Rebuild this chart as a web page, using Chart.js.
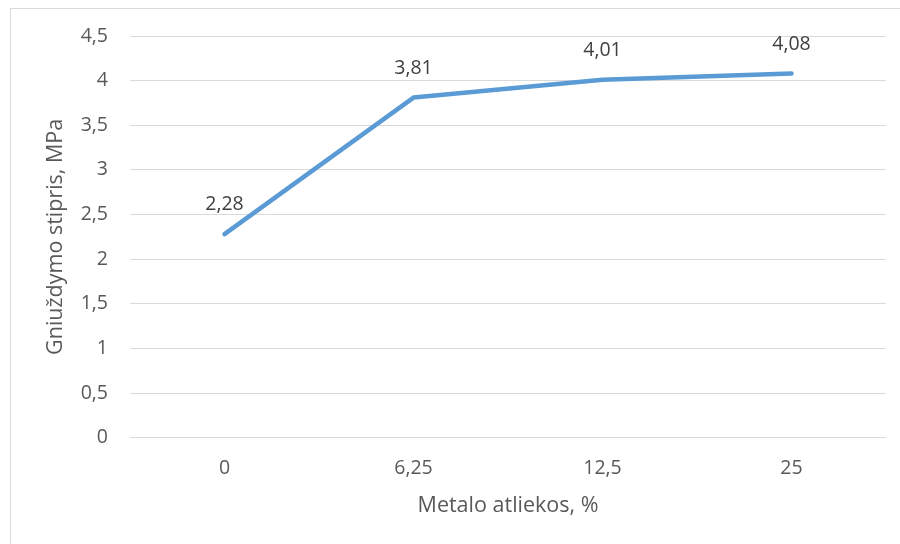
<!DOCTYPE html>
<html>
<head>
<meta charset="utf-8">
<script src="https://cdn.jsdelivr.net/npm/chart.js@4"></script>
<style>
  html, body { margin: 0; padding: 0; background: #fff; }
  #wrap { position: relative; width: 900px; height: 544px; }
  #frame { position: absolute; left: 10px; top: 8px; width: 900px; height: 560px;
           border: 1px solid #d9d9d9; box-sizing: border-box; }
  canvas { position: absolute; left: 0; top: 0; }
</style>
</head>
<body>
<div id="wrap">
  <div id="frame"></div>
  <canvas id="c" width="900" height="544"></canvas>
</div>
<script>
// Metal waste share (%) and compressive strength (MPa)
const categories = ['0', '6,25', '12,5', '25'];
const strength = [2.28, 3.81, 4.01, 4.08];
const yTitle = 'Gniuždymo stipris, MPa';
const xTitle = 'Metalo atliekos, %';

const FONT = '"Open Sans", sans-serif';
const TEXT = '#595959';
const fmt = v => String(v).replace('.', ',');

// value labels above each point
const valueLabels = {
  id: 'valueLabels',
  afterDatasetsDraw(chart) {
    const ctx = chart.ctx;
    const meta = chart.getDatasetMeta(0);
    ctx.save();
    ctx.font = '19.5px ' + FONT;
    ctx.fillStyle = '#404040';
    ctx.textAlign = 'center';
    ctx.textBaseline = 'middle';
    meta.data.forEach((pt, i) => {
      ctx.fillText(fmt(chart.data.datasets[0].data[i]), pt.x, pt.y - 29.5);
    });
    ctx.restore();
  }
};

new Chart(document.getElementById('c'), {
  type: 'line',
  data: {
    labels: categories,
    datasets: [{
      data: strength,
      borderColor: '#5B9BD5',
      borderWidth: 4.5,
      borderCapStyle: 'round',
      borderJoinStyle: 'round',
      pointRadius: 0,
      tension: 0,
      fill: false
    }]
  },
  options: {
    responsive: false,
    animation: false,
    devicePixelRatio: 1,
    layout: { padding: { left: 0, right: 14, top: 36, bottom: 0 } },
    plugins: { legend: { display: false }, tooltip: { enabled: false } },
    scales: {
      x: {
        offset: true,
        grid: { display: false, drawTicks: false },
        border: { display: false },
        ticks: { color: TEXT, font: { family: FONT, size: 19.5 }, padding: 19 },
        title: { display: true, text: xTitle, color: TEXT,
                 font: { family: FONT, size: 21.5 }, padding: { top: 0, bottom: 25 } },
        afterFit(s) { s.height = 106.3; }
      },
      y: {
        min: 0, max: 4.5,
        grid: { color: '#d9d9d9', lineWidth: 1, drawTicks: false },
        border: { display: false },
        ticks: { stepSize: 0.5, color: TEXT, font: { family: FONT, size: 19.5 },
                 padding: 22, callback: v => fmt(v) },
        title: { display: true, text: yTitle, color: TEXT,
                 font: { family: FONT, size: 21.5 }, padding: { top: 43, bottom: 0 } },
        afterFit(s) { s.width = 130; }
      }
    }
  },
  plugins: [valueLabels]
});
</script>
</body>
</html>
